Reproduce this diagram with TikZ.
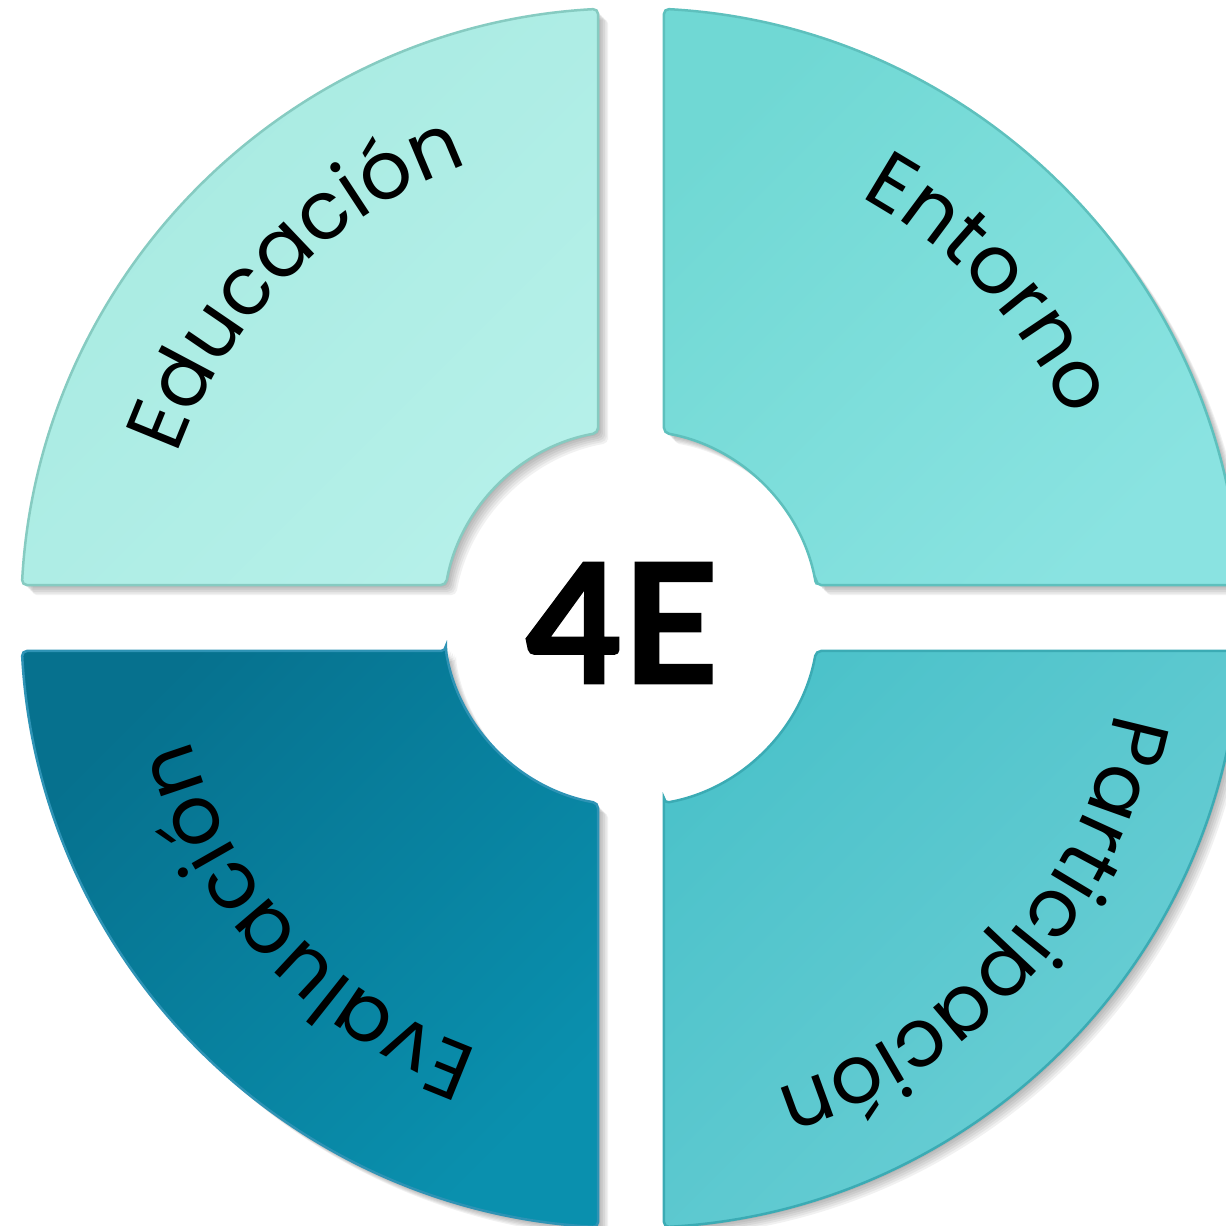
\documentclass[tikz,border=0pt]{standalone}
\usepackage{fontspec}
\usetikzlibrary{decorations.text}
\newfontfamily\labelfont{Poppins}
\newfontfamily\fourefont{Lato}[BoldFeatures={FakeBold=1.5}]
\definecolor{tlA}{HTML}{A7EAE1}
\definecolor{tlB}{HTML}{B5F0E9}
\definecolor{tlS}{HTML}{86CBC1}
\definecolor{trA}{HTML}{70D8D4}
\definecolor{trB}{HTML}{8AE3E1}
\definecolor{trS}{HTML}{5EC0BD}
\definecolor{brA}{HTML}{4CC2CA}
\definecolor{brB}{HTML}{6CCFD5}
\definecolor{brS}{HTML}{3BABB4}
\definecolor{blA}{HTML}{06718E}
\definecolor{blB}{HTML}{0A90AE}
\definecolor{blS}{HTML}{2E93B5}
\newcommand{\quadpath}[1]{(#1+10.11:188) -- (#1+3.1:610) arc[start angle=#1+3.1, end angle=#1+86.9, radius=610] -- (#1+79.89:188) arc[start angle=#1+79.89, end angle=#1+10.11, radius=188] -- cycle}
\tikzset{
  piece/.style={rounded corners=5pt, line width=2.5pt},
  shadowlayer/.style={fill=black, opacity=0.055, rounded corners=5pt},
  arclabel/.style={decorate, decoration={text along path, text align=center, text color=black,
     text={|\labelfont\fontsize{81}{92}\selectfont|#1}}}
}
\begin{document}
\begin{tikzpicture}[x=1pt,y=1pt]
\useasboundingbox (-631,-608) rectangle (595,618);
\clip (-631,-608) rectangle (595,618);
% shadows
\foreach \q in {0,90,180,270}{
  \foreach \i in {1,...,6}{
    \fill[shadowlayer, shift={(1.7*\i,-1.7*\i)}] \quadpath{\q};
  }
}
% pieces
\path[piece, draw=trS, top color=trA, bottom color=trB, shading angle=45] \quadpath{0};
\path[piece, draw=tlS, top color=tlA, bottom color=tlB, shading angle=45] \quadpath{90};
\path[piece, draw=blS, top color=blA, bottom color=blB, shading angle=45] \quadpath{180};
\path[piece, draw=brS, top color=brA, bottom color=brB, shading angle=45] \quadpath{270};
% labels along arcs
\path[arclabel={Educación}] (170:482) arc[start angle=170, end angle=100, radius=482];
\path[arclabel={Entorno}] (78:480) arc[start angle=78, end angle=8, radius=480];
\path[arclabel={Participación}] (0:493) arc[start angle=0, end angle=-84, radius=493];
\path[arclabel={Evaluación}] (265:458) arc[start angle=265, end angle=181, radius=458];
% center
\node[font=\fourefont\bfseries\fontsize{166}{166}\selectfont, inner sep=0, anchor=base] (fourE) at (-9,-65) {4E};
\end{tikzpicture}
\end{document}
